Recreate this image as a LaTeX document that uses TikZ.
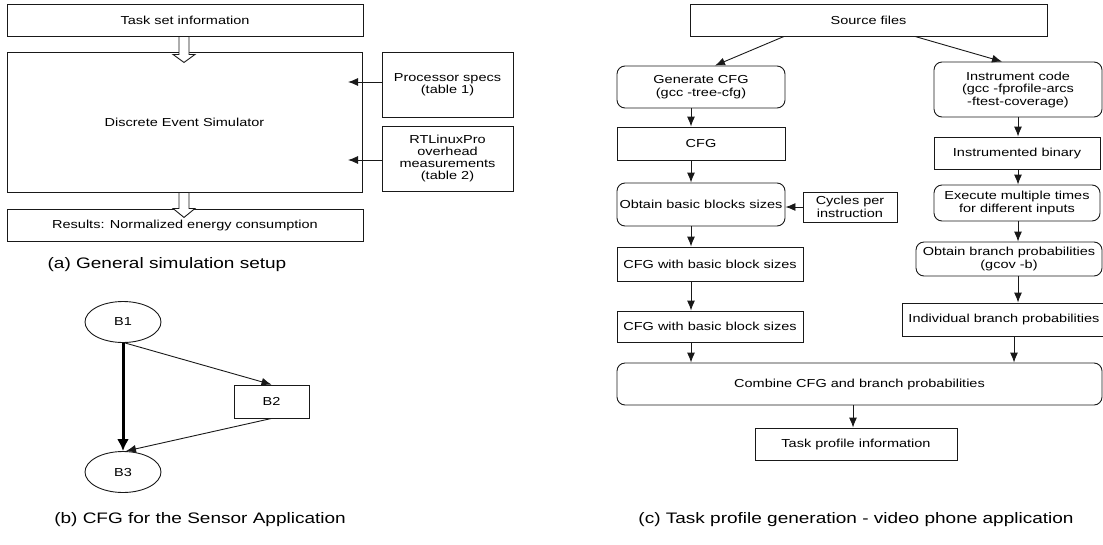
\documentclass[tikz,border=0pt]{standalone}
\usepackage{fontspec}
\setmainfont{Liberation Sans}[FakeStretch=1.25]
\usetikzlibrary{arrows.meta,shapes.geometric}
\newcommand\boxtextsize{\fontsize{11.6}{12.5}\selectfont}
\newcommand\captextsize{\fontsize{15.2}{17}\selectfont}

\begin{document}
\begin{tikzpicture}[x=1pt,y=-1pt,
  box/.style={draw=black!90, line width=0.9pt, inner sep=0pt, align=center, font=\boxtextsize},
  rbox/.style={box, rounded corners=8pt},
  oval/.style={box, ellipse},
  captiontext/.style={inner sep=0pt, font=\captextsize},
  conn/.style={draw=black!90, line width=0.9pt, -{Latex[length=10pt,width=8pt]}},
  heavy/.style={draw=black, line width=3pt, -{Latex[length=12pt,width=12pt]}},
  hollow/.style={draw=black!90, line width=0.9pt, fill=white}
]
\useasboundingbox (0,0) rectangle (1103,544);

% ---------- (a) general simulation setup ----------
\node[box, minimum width=356, minimum height=32] (task) at (185,20) {Task set information};
\node[box, minimum width=355, minimum height=140] (des) at (184.5,122) {Discrete Event Simulator};
\node[box, minimum width=356, minimum height=32] (res) at (185,225) {Results: Normalized energy consumption};
\node[box, minimum width=131, minimum height=65] (proc) at (447.5,84.5) {Processor specs\\(table 1)};
\node[box, minimum width=131, minimum height=65, font=\fontsize{11.6}{12}\selectfont] (rtl) at (447.5,158.5)
  {RTLinuxPro\\overhead\\measurements\\(table 2)};
\coordinate (pin1) at (348,82);
\coordinate (pin2) at (348,160);
\draw[conn] (proc.west |- pin1) -- (pin1);
\draw[conn] (rtl.west |- pin2) -- (pin2);
% hollow block arrows
\draw[hollow] ([xshift=-6pt]task.south) -- ++(0,18) -- ++(-6,0) -- ++(11,8) -- ++(11,-8)
  -- ++(-6,0) -- ++(0,-18) -- cycle;
\draw[hollow] ([xshift=-5.5pt]des.south) -- ++(0,16) -- ++(-6,0) -- ++(11,9) -- ++(11,-9)
  -- ++(-6,0) -- ++(0,-16) -- cycle;
\node[captiontext] (capa) at (167,265) {(a) General simulation setup};

% ---------- (b) CFG of the sensor application ----------
\node[oval, minimum width=76, minimum height=41] (B1) at (123,322) {B1};
\node[box, minimum width=75, minimum height=33] (B2) at (271.5,401.5) {B2};
\node[oval, minimum width=76, minimum height=41] (B3) at (123,472) {B3};
\draw[heavy] (B1.south) -- (B3.north);
\draw[conn] ([xshift=2pt]B1.south) -- (B2.north);
\draw[conn] (B2.south) -- ([xshift=3pt]B3.north);
\node[captiontext] (capb) at (200,520) {(b) CFG for the Sensor Application};

% ---------- (c) task profile generation ----------
\node[box, minimum width=357, minimum height=32] (src) at (868.5,20) {Source files};
\node[rbox, minimum width=168, minimum height=42] (gen) at (701,87) {Generate CFG\\(gcc -tree-cfg)};
\node[rbox, minimum width=168, minimum height=55] (inst) at (1018,89.5)
  {Instrument code\\(gcc -fprofile-arcs\\-ftest-coverage)};
\node[box, minimum width=168, minimum height=33] (cfg) at (701,143.5) {CFG};
\node[rbox, minimum width=168, minimum height=43] (obb) at (701,204.5) {Obtain basic blocks sizes};
\node[box, minimum width=94, minimum height=30] (cpi) at (850,207) {Cycles per\\instruction};
\node[box, minimum width=186, minimum height=34] (cbs1) at (710,264) {CFG with basic block sizes};
\node[box, minimum width=186, minimum height=31] (cbs2) at (710,326.5) {CFG with basic block sizes};
\node[box, minimum width=166, minimum height=32] (bin) at (1017,153) {Instrumented binary};
\node[rbox, minimum width=166, minimum height=36] (exe) at (1017,203)
  {Execute multiple times\\for different inputs};
\node[rbox, minimum width=186, minimum height=34] (obp) at (1009,259)
  {Obtain branch probabilities\\(gcov -b)};
\node[box, minimum width=204, minimum height=33] (ibp) at (1004,319.5) {Individual branch probabilities};
\node[rbox, minimum width=485, minimum height=42] (comb) at (859.5,384)
  {Combine CFG and branch probabilities};
\node[box, minimum width=202, minimum height=32] (tpi) at (856,444) {Task profile information};

\draw[conn] ([xshift=-84.5pt]src.south) -- ([xshift=14pt]gen.north);
\draw[conn] ([xshift=46.5pt]src.south) -- ([xshift=-16pt]inst.north);
\draw[conn] ([xshift=-10pt]gen.south) -- ([xshift=-10pt]cfg.north);
\draw[conn] ([xshift=-10pt]cfg.south) -- ([xshift=-10pt]obb.north);
\draw[conn] (cpi.west) -- (cpi.west -| obb.east);
\draw[conn] ([xshift=-10pt]obb.south) -- ([xshift=-19pt]cbs1.north);
\draw[conn] ([xshift=-19pt]cbs1.south) -- ([xshift=-19pt]cbs2.north);
\draw[conn] ([xshift=-19pt]cbs2.south) -- ([xshift=-168.5pt]comb.north);
\draw[conn] (inst.south) -- ([xshift=1pt]bin.north);
\draw[conn] ([xshift=1pt]bin.south) -- ([xshift=1pt]exe.north);
\draw[conn] ([xshift=1pt]exe.south) -- ([xshift=9pt]obp.north);
\draw[conn] ([xshift=9pt]obp.south) -- ([xshift=14pt]ibp.north);
\draw[conn] ([xshift=10pt]ibp.south) -- ([xshift=154.5pt]comb.north);
\draw[conn] ([xshift=-6.5pt]comb.south) -- ([xshift=-3pt]tpi.north);
\node[captiontext] (capc) at (856,520) {(c) Task profile generation - video phone application};
\end{tikzpicture}
\end{document}
